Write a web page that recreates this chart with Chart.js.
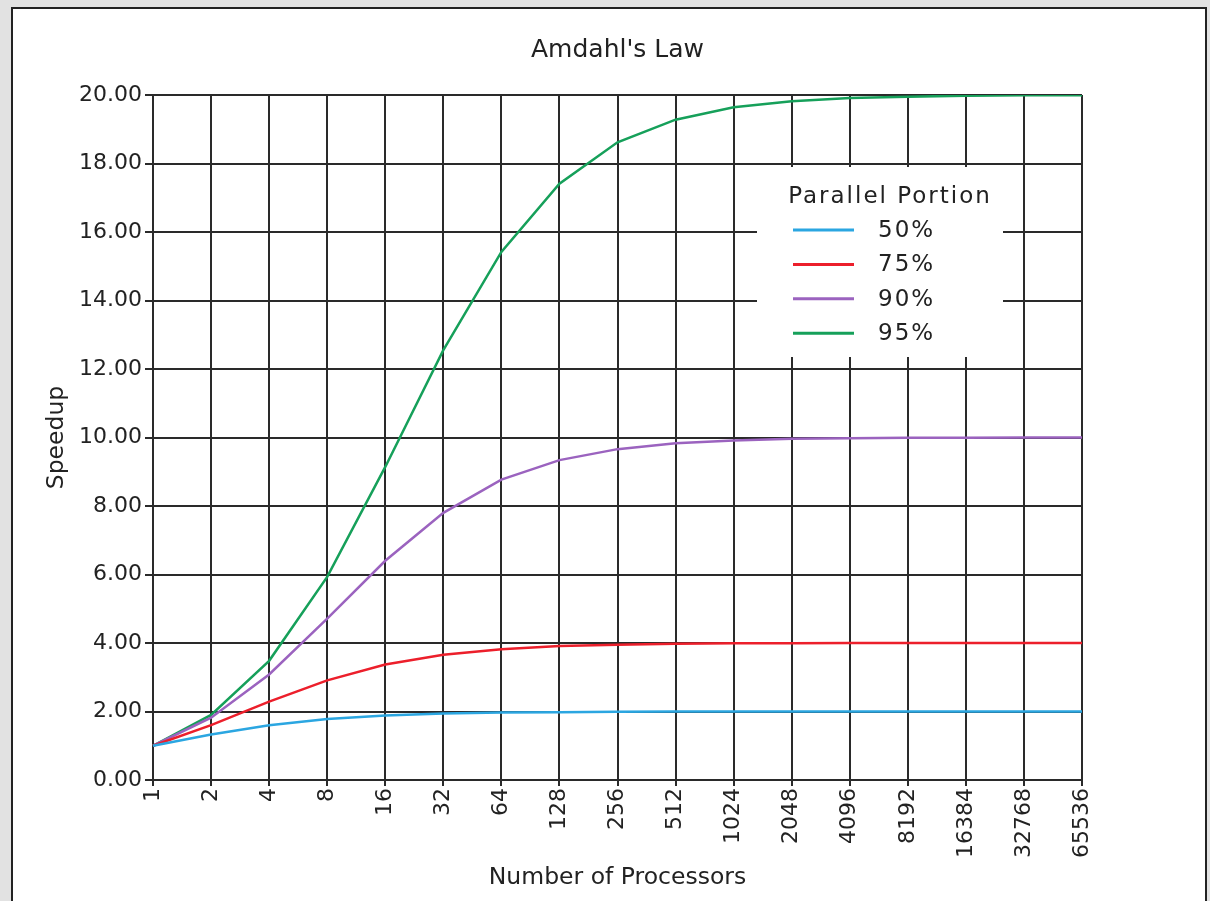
<!DOCTYPE html>
<html>
<head>
<meta charset="utf-8">
<title>Amdahl's Law</title>
<script src="https://cdn.jsdelivr.net/npm/chart.js@4.4.1/dist/chart.umd.min.js"></script>
<style>
  html, body {
    margin: 0;
    padding: 0;
    width: 1210px;
    height: 901px;
    overflow: hidden;
    background: #e2e2e2;
  }
  #panel {
    position: absolute;
    left: 11px;
    top: 7px;
    width: 1192px;
    height: 1000px;
    border: 2px solid #222;
    background: #fff;
  }
  #amdahl-chart {
    position: absolute;
    left: 0;
    top: 0;
  }
</style>
</head>
<body>
<div id="panel"></div>
<canvas id="amdahl-chart" width="1210" height="901"></canvas>

<script>
// Values
const processors = ["1", "2", "4", "8", "16", "32", "64", "128", "256", "512",
  "1024", "2048", "4096", "8192", "16384", "32768", "65536"];

const portionLabels = ["50%", "75%", "90%", "95%"];
const portionColors = ["#2ba6e1", "#ec1f2b", "#9b63bf", "#16a05a"];

const speedup50 = [1.00, 1.33, 1.60, 1.78, 1.88, 1.94, 1.97, 1.98, 1.99, 2.00,
  2.00, 2.00, 2.00, 2.00, 2.00, 2.00, 2.00];
const speedup75 = [1.00, 1.60, 2.29, 2.91, 3.37, 3.66, 3.82, 3.91, 3.95, 3.98,
  3.99, 3.99, 4.00, 4.00, 4.00, 4.00, 4.00];
const speedup90 = [1.00, 1.82, 3.08, 4.71, 6.40, 7.80, 8.77, 9.34, 9.66, 9.83,
  9.91, 9.96, 9.98, 9.99, 9.99, 10.00, 10.00];
const speedup95 = [1.00, 1.90, 3.48, 5.93, 9.14, 12.55, 15.42, 17.41, 18.62, 19.28,
  19.64, 19.82, 19.91, 19.95, 19.98, 19.99, 19.99];

const yMin = 0;
const yMax = 20;
const yStep = 2;

const FONT = "'DejaVu Sans', sans-serif";
const TEXT = "#222";
const GRID = "#2a2a2a";

// Boxed legend drawn inside the plot area, over the grid
const insideLegend = {
  id: "insideLegend",
  afterDatasetsDraw(chart) {
    const { ctx, chartArea } = chart;
    const x0 = chartArea.right - 325;
    const y0 = chartArea.top + 72;
    const w = 246;
    const h = 190;

    ctx.save();
    ctx.fillStyle = "#fff";
    ctx.fillRect(x0, y0, w, h);

    ctx.fillStyle = TEXT;
    ctx.font = "23px " + FONT;
    ctx.letterSpacing = "2px";
    ctx.textBaseline = "middle";
    ctx.textAlign = "center";
    ctx.fillText("Parallel Portion", x0 + 133, y0 + 30);

    ctx.textAlign = "left";
    chart.data.datasets.forEach((ds, i) => {
      const y = y0 + 63 + i * 34.4;
      ctx.strokeStyle = ds.borderColor;
      ctx.lineWidth = 3;
      ctx.beginPath();
      ctx.moveTo(x0 + 36, y);
      ctx.lineTo(x0 + 97, y);
      ctx.stroke();
      ctx.fillStyle = TEXT;
      ctx.fillText(ds.label, x0 + 121, y + 1);
    });
    ctx.restore();
  },
};

const seriesValues = [speedup50, speedup75, speedup90, speedup95];

new Chart(document.getElementById("amdahl-chart"), {
  type: "line",
  data: {
    labels: processors,
    datasets: seriesValues.map((values, i) => ({
      label: portionLabels[i],
      data: values,
      borderColor: portionColors[i],
      backgroundColor: portionColors[i],
      borderWidth: 2.5,
      pointRadius: 0,
      tension: 0,
      fill: false,
    })),
  },
  options: {
    responsive: false,
    animation: false,
    devicePixelRatio: 1,
    layout: {
      padding: { left: 0, right: 128, top: 0, bottom: 0 },
    },
    plugins: {
      legend: { display: false },
      tooltip: { enabled: false },
      title: {
        display: true,
        text: "Amdahl's Law",
        fullSize: false,
        color: TEXT,
        font: { family: FONT, size: 25, weight: "normal", lineHeight: 1.2 },
        padding: { top: 35, bottom: 30 },
      },
    },
    scales: {
      x: {
        type: "category",
        offset: false,
        afterFit(scale) {
          scale.height = 121;
        },
        grid: {
          color: GRID,
          lineWidth: 2,
          offset: false,
          tickLength: 6,
        },
        border: { color: GRID, width: 2 },
        ticks: {
          autoSkip: false,
          minRotation: 90,
          maxRotation: 90,
          padding: 2,
          color: TEXT,
          font: { family: FONT, size: 22 },
        },
        title: {
          display: true,
          text: "Number of Processors",
          color: TEXT,
          font: { family: FONT, size: 23.5, lineHeight: 1.2 },
          padding: { top: 0, bottom: 9 },
        },
      },
      y: {
        min: yMin,
        max: yMax,
        afterFit(scale) {
          scale.width = 153;
        },
        grid: {
          color: GRID,
          lineWidth: 2,
          tickLength: 8,
        },
        border: { color: GRID, width: 2 },
        ticks: {
          stepSize: yStep,
          padding: 3,
          color: TEXT,
          font: { family: FONT, size: 22 },
          callback: (value) => Number(value).toFixed(2),
        },
        title: {
          display: true,
          text: "Speedup",
          color: TEXT,
          font: { family: FONT, size: 23.5, lineHeight: 1.2 },
          padding: { top: 43, bottom: 0 },
        },
      },
    },
  },
  plugins: [insideLegend],
});
</script>
</body>
</html>
